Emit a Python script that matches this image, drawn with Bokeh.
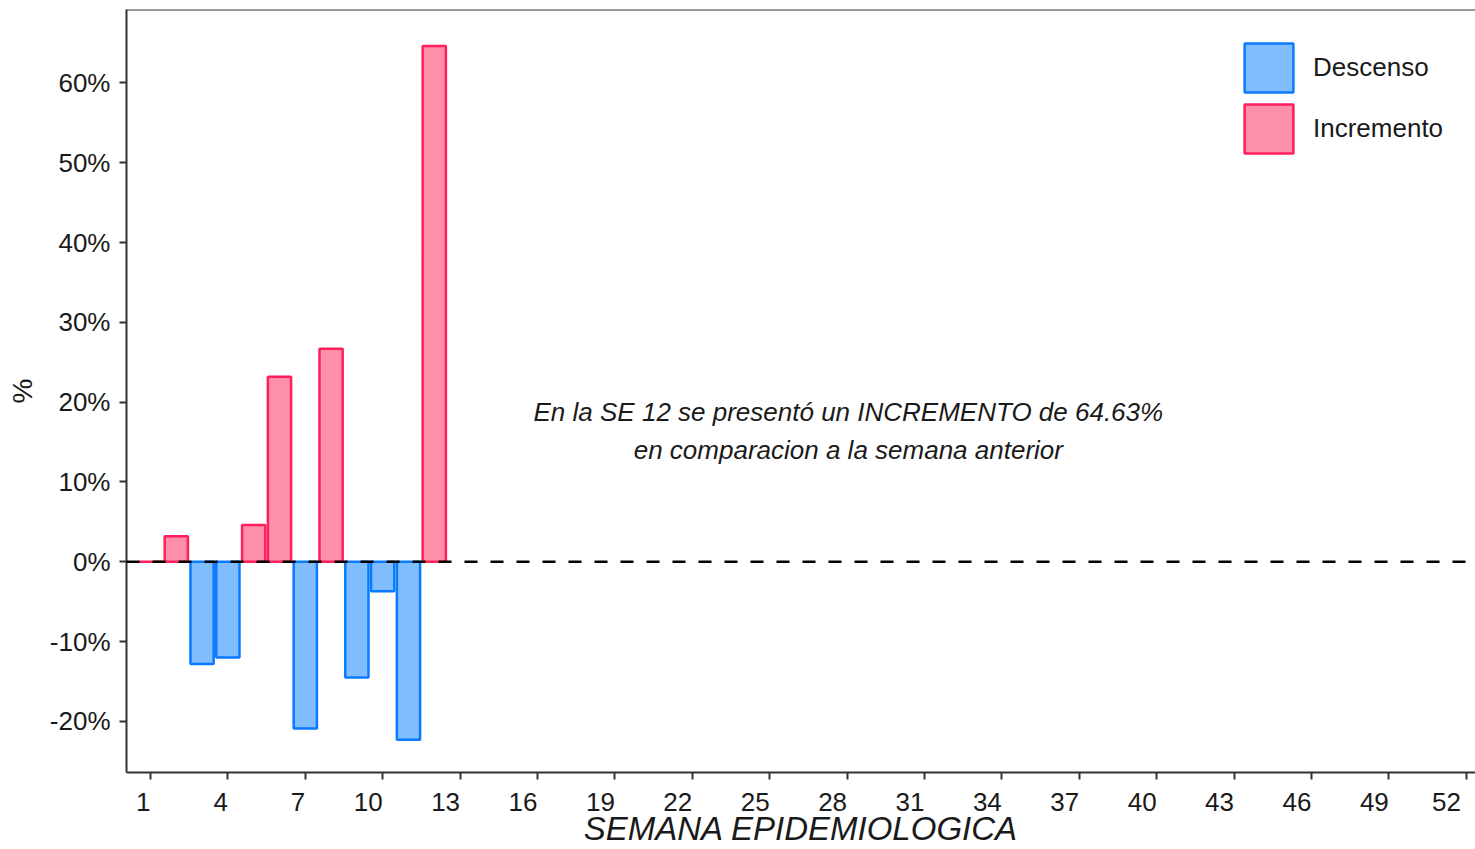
from bokeh.plotting import figure
from bokeh.models import Range1d, FixedTicker, PrintfTickFormatter, Span, Label, ColumnDataSource
from bokeh.embed import file_html
from bokeh.resources import INLINE

# ---- data ----
weeks = [1, 2, 3, 4, 5, 6, 7, 8, 9, 10, 11, 12]
pct_change = [0.0, 3.2, -12.8, -12.0, 4.6, 23.2, -20.9, 26.7, -14.5, -3.7, -22.3, 64.63]
categories = ["Descenso", "Incremento"]
fill_colors = ["#80BDFF", "#FD8FAA"]
line_colors = ["#0A7BFF", "#FF1F5B"]
x_ticks = list(range(1, 53, 3))
y_ticks = [-20, -10, 0, 10, 20, 30, 40, 50, 60]
annotation_lines = ["En la SE 12 se presentó un INCREMENTO de 64.63%",
                    "en comparacion a la semana anterior"]
x_title = "SEMANA EPIDEMIOLOGICA"
y_title = "%"

FONT = "Liberation Sans"
TXT = "#1A1A1A"
AX = "#333333"
Y0, Y1 = -26.4, 69.2
FIG_SP = "\u2007"  # figure space: pads labels so they end at the tick (right-justified look)

p = figure(width=1475, height=849,
           x_range=Range1d(0.07, 52.36), y_range=Range1d(Y0, Y1),
           output_backend="svg", toolbar_location=None,
           min_border_left=126, min_border_top=9, min_border_right=0,
           min_border_bottom=77)
p.xgrid.visible = False
p.ygrid.visible = False
p.outline_line_color = None
p.background_fill_color = "white"

for cat, fc, lc in zip(categories, fill_colors, line_colors):
    idx = [i for i, v in enumerate(pct_change) if (v < 0) == (cat == "Descenso")]
    src = ColumnDataSource(dict(x=[weeks[i] for i in idx],
                                top=[pct_change[i] for i in idx]))
    p.vbar(x="x", top="top", bottom=0, width=0.9, fill_color=fc,
           line_color=lc, line_width=2.5, source=src, legend_label=cat)

# zero reference line and top border
p.add_layout(Span(location=0, dimension="width", line_color="black",
                  line_width=2.5, line_dash="13 13"))
p.add_layout(Span(location=Y1, dimension="width", line_color=AX, line_width=2))

# axes
for ax in (p.xaxis, p.yaxis):
    ax.axis_line_color = AX
    ax.axis_line_width = 2
    ax.major_tick_line_color = AX
    ax.major_tick_line_width = 2
    ax.major_tick_out = 7
    ax.major_tick_in = 0
    ax.minor_tick_line_color = None
    ax.major_label_text_font = FONT
    ax.major_label_text_font_size = "26px"
    ax.major_label_text_color = TXT

overrides = {t: str(t) + FIG_SP * len(str(t)) for t in x_ticks}
overrides[x_ticks[-1]] = str(x_ticks[-1]) + FIG_SP  # last label kept inside canvas
p.xaxis.ticker = FixedTicker(ticks=x_ticks)
p.xaxis.major_label_overrides = overrides
p.xaxis.major_label_standoff = 7
p.xaxis.axis_label = x_title
p.xaxis.axis_label_text_font = FONT
p.xaxis.axis_label_text_font_size = "33px"
p.xaxis.axis_label_text_font_style = "italic"
p.xaxis.axis_label_text_color = TXT
p.xaxis.axis_label_standoff = -10

p.yaxis.ticker = FixedTicker(ticks=y_ticks)
p.yaxis.formatter = PrintfTickFormatter(format="%d%%")
p.yaxis.major_label_standoff = 9
p.yaxis.axis_label = y_title
p.yaxis.axis_label_text_font = FONT
p.yaxis.axis_label_text_font_size = "28px"
p.yaxis.axis_label_text_font_style = "normal"
p.yaxis.axis_label_text_color = TXT
p.yaxis.axis_label_standoff = 9

# annotation
for txt, yy in zip(annotation_lines, [18.8, 14.0]):
    p.add_layout(Label(x=28.05, y=yy, text=txt, text_align="center",
                       text_baseline="middle", text_font=FONT,
                       text_font_size="26px", text_font_style="italic",
                       text_color=TXT))

# legend
lg = p.legend[0]
lg.location = (1112, 613)
lg.padding = 0
lg.spacing = 0
lg.glyph_width = 61
lg.glyph_height = 61
lg.label_standoff = 14
lg.label_text_font = FONT
lg.label_text_font_size = "26px"
lg.label_text_color = TXT
lg.border_line_color = None
lg.background_fill_alpha = 0

open("out.html", "w").write(file_html(p, INLINE))
